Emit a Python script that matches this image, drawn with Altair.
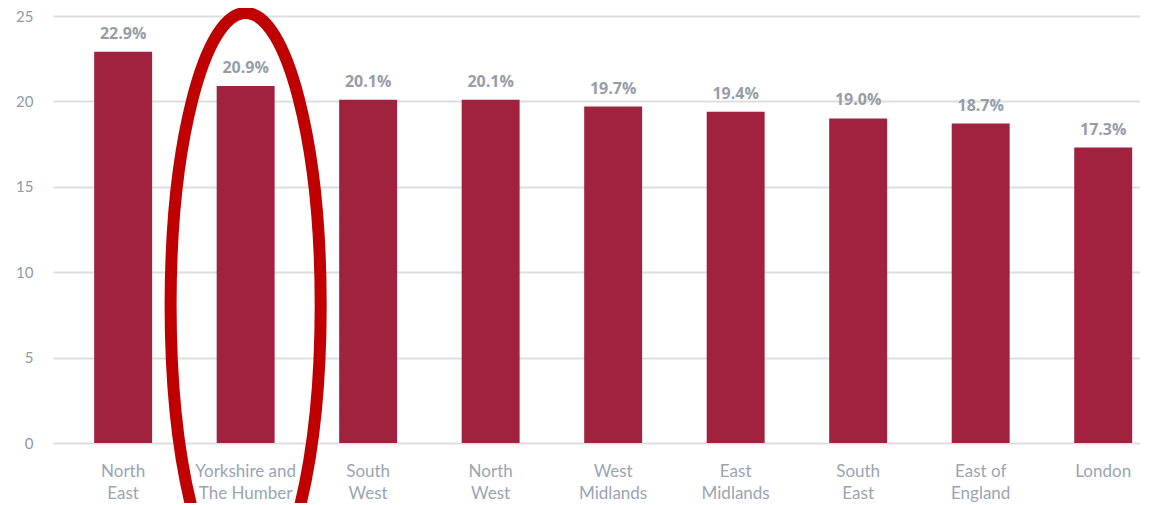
import altair as alt
import pandas as pd

regions = ["North|East", "Yorkshire and|The Humber", "South|West", "North|West",
           "West|Midlands", "East|Midlands", "South|East", "East of|England", "London"]
values = [22.9, 20.9, 20.1, 20.1, 19.7, 19.4, 19.0, 18.7, 17.3]
labels = ["22.9%", "20.9%", "20.1%", "20.1%", "19.7%", "19.4%", "19.0%", "18.7%", "17.3%"]
y_ticks = [0, 5, 10, 15, 20, 25]
highlight = ["Yorkshire and|The Humber"]

df = pd.DataFrame({"region": regions, "value": values, "label": labels})
hl = pd.DataFrame({"region": highlight})

xscale = alt.Scale(domain=regions, paddingInner=0.527, paddingOuter=0.2, align=0.84)
yscale = alt.Scale(domain=[0, 25], nice=False)

x_enc = alt.X("region:N", sort=regions, scale=xscale,
              axis=alt.Axis(title=None, labelExpr="split(datum.value, '|')",
                            labelAngle=0, labelFont="Lato", labelFontSize=17,
                            labelColor="#9aa5b3", labelLineHeight=22,
                            labelBaseline="top", labelPadding=20, ticks=False,
                            domain=False, grid=False))

bars = alt.Chart(df).mark_bar(color="#A0223F").encode(
    x=x_enc,
    y=alt.Y("value:Q", scale=yscale,
            axis=alt.Axis(title=None, values=y_ticks, labelFont="Lato", labelFontSize=15,
                          labelColor="#8e9aa8", labelPadding=20, ticks=False,
                          domain=False, gridColor="#dedede", gridWidth=2)),
)

text = alt.Chart(df).mark_text(font="Open Sans", fontWeight="bold", fontSize=16,
                               color="#959ea8", baseline="alphabetic", dy=-13).encode(
    x=alt.X("region:N", sort=regions, scale=xscale),
    y=alt.Y("value:Q", scale=yscale),
    text="label:N",
)

ellipse_path = "M 0 -1 A 0.257 1 0 1 1 0 1 A 0.257 1 0 1 1 0 -1 Z"
ellipse = alt.Chart(hl).mark_point(shape=ellipse_path, size=341056, filled=False,
                                   stroke="#C00000", strokeWidth=12, opacity=1).encode(
    x=alt.X("region:N", sort=regions, scale=xscale),
    y=alt.value(289),
)

chart = alt.layer(bars, text, ellipse).properties(
    width=1087, height=427,
    autosize=alt.AutoSizeParams(type="none"),
    padding={"left": 45, "top": 8, "right": 0, "bottom": 60},
).configure_view(stroke=None)

chart.save("out.html", embed_options={"renderer": "svg", "actions": False})
